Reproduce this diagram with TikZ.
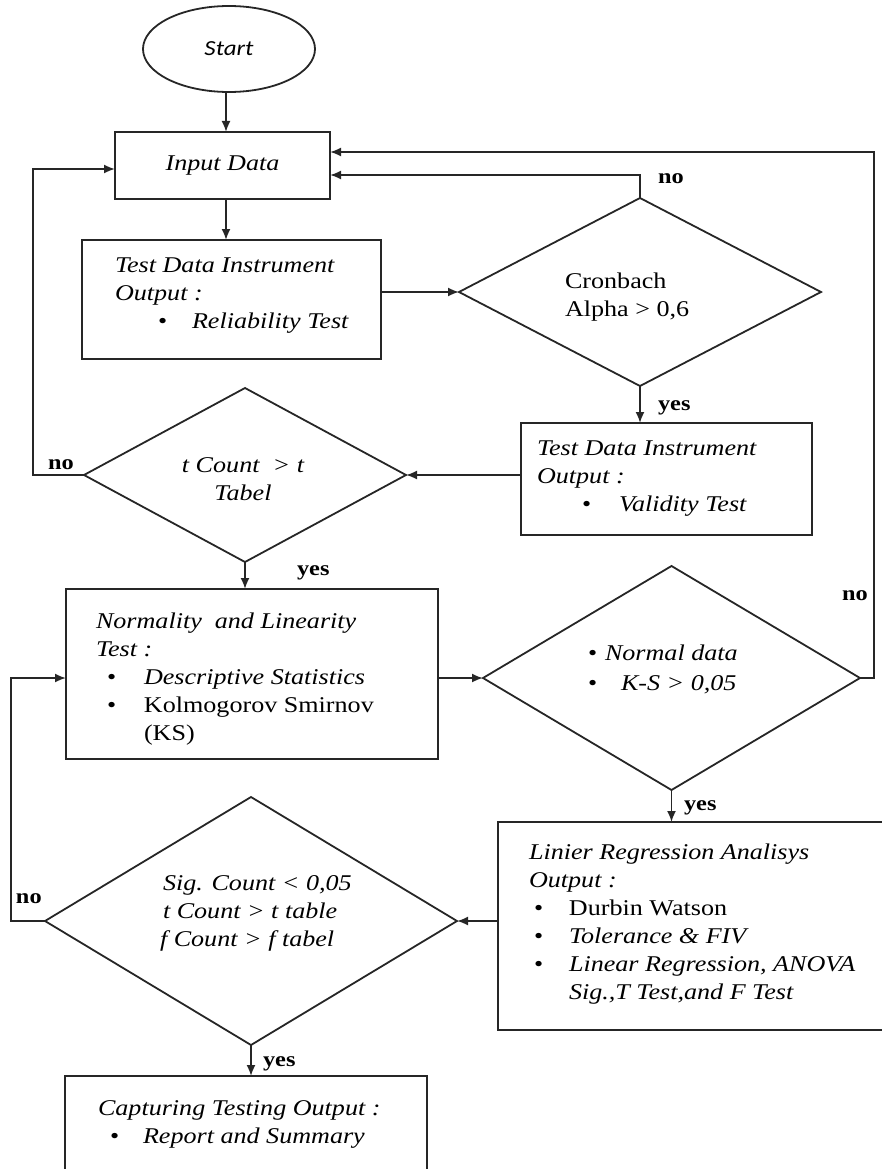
\documentclass[tikz,border=0pt]{standalone}
\usepackage{fontspec}
\setmainfont{Liberation Serif}[FakeStretch=1.16]
\newfontfamily\startfont{Carlito}[FakeStretch=1.16]
\usetikzlibrary{shapes.geometric,arrows.meta}
\newcommand\tline[1]{\hbox{#1}}
\newcommand\bul[2]{\hspace*{#1}\makebox[#2][l]{\upshape •}}
\begin{document}
\begin{tikzpicture}[x=1pt,y=-1pt,
  every node/.style={inner sep=0pt, outer sep=0pt},
  shapeline/.style={draw=black!85, line width=1.8pt},
  box/.style={shapeline, rectangle},
  dec/.style={shapeline, diamond},
  conn/.style={draw=black!85, line width=1.8pt, -{Latex[length=11pt,width=9pt]}},
  txt/.style={anchor=base west, font=\fontsize{22.5}{28}\selectfont\itshape},
  lab/.style={anchor=base west, font=\fontsize{21}{21}\selectfont\bfseries},
]
\useasboundingbox (0,0) rectangle (882,1169);
\clip (0,0) rectangle (882,1169);

% shapes
\node[ellipse, shapeline, minimum width=172pt, minimum height=86pt,
      font=\startfont\itshape\fontsize{21.5}{22}\selectfont] (start) at (229,49) {Start};
\node[box, minimum width=215pt, minimum height=67pt,
      font=\fontsize{22.5}{28}\selectfont\itshape] (input) at (222.5,165.5) {Input Data};
\node[box, minimum width=299pt, minimum height=119pt] (test1) at (231.5,299.5) {};
\node[dec, minimum width=362pt, minimum height=188pt] (cron) at (640,292) {};
\node[box, minimum width=291pt, minimum height=112pt] (test2) at (666.5,479) {};
\node[dec, minimum width=322pt, minimum height=174pt] (tcount) at (245,475) {};
\node[box, minimum width=372pt, minimum height=170pt] (norm) at (252,674) {};
\node[dec, minimum width=377pt, minimum height=224pt] (normal) at (671.5,678) {};
\node[box, minimum width=402pt, minimum height=208pt] (linier) at (699,926) {};
\node[dec, minimum width=412pt, minimum height=248pt] (sig) at (251,921) {};
\node[box, minimum width=362pt, minimum height=124pt] (capt) at (246,1138) {};

% texts
\node[txt] (t-test1) at (115,272) {\vtop{\tline{Test Data Instrument}\tline{Output :}\tline{\bul{43pt}{34pt}Reliability Test}}};
\node[txt] (t-cron) at (565,288) {\upshape\vtop{\tline{Cronbach}\tline{Alpha > 0,6}}};
\node[txt] (t-test2) at (537,455) {\vtop{\tline{Test Data Instrument}\tline{Output :}\tline{\bul{45pt}{37pt}Validity Test}}};
\node[txt] (t-tcount) at (178,472) {\vtop{\tline{\makebox[130pt]{t Count\ \ > t}}\tline{\makebox[130pt]{Tabel}}}};
\node[txt] (t-norm) at (96,628) {\vtop{\tline{Normality\ \ and Linearity}\tline{Test :}\tline{\bul{11pt}{37pt}Descriptive Statistics}\tline{\bul{11pt}{37pt}\upshape Kolmogorov Smirnov}\tline{\hspace*{48pt}\upshape (KS)}}};
\node[txt] (t-normal) at (588,660) {\vtop{\baselineskip=30pt\tline{\bul{0pt}{17pt}Normal data}\tline{\bul{0pt}{33pt}K-S > 0,05}}};
\node[txt] (t-linier) at (529,859) {\vtop{\tline{Linier Regression Analisys}\tline{Output :}\tline{\bul{5pt}{35pt}\upshape Durbin Watson}\tline{\bul{5pt}{35pt}Tolerance \& FIV}\tline{\bul{5pt}{35pt}Linear Regression, ANOVA}\tline{\hspace*{40pt}Sig.,T Test,and F Test}}};
\node[txt] (t-sig) at (163,890) {\vtop{\tline{Sig. Count < 0,05}\tline{t Count > t table}\tline{\hspace*{-3pt}f Count > f tabel}}};
\node[txt] (t-capt) at (98,1115) {\vtop{\tline{Capturing Testing Output :}\tline{\bul{12pt}{33pt}Report and Summary}}};

% connectors
\draw[conn] ([xshift=3.5pt]input.north |- start.south) -- ([xshift=3.5pt]input.north);
\draw[conn] ([xshift=3.5pt]input.south) -- ([xshift=3.5pt]input.south |- test1.north);
\draw[conn] (test1.east |- cron.west) -- (cron.west);
\draw[conn] (cron.north) |- ([yshift=-9.5pt]input.east);
\draw[conn] (normal.east) -- ++(14,0) |- ([yshift=13.5pt]input.east);
\draw[conn] (tcount.west) -- ++(-51,0) |- ([yshift=-3.5pt]input.west);
\draw[conn] (cron.south) -- (cron.south |- test2.north);
\draw[conn] (test2.west |- tcount.east) -- (tcount.east);
\draw[conn] (tcount.south) -- (tcount.south |- norm.north);
\draw[conn] (norm.east |- normal.west) -- (normal.west);
\draw[conn] (normal.south) -- (normal.south |- linier.north);
\draw[conn] (linier.west |- sig.east) -- (sig.east);
\draw[conn] (sig.west) -- ++(-34,0) |- (norm.west |- normal.west);
\draw[conn] (sig.south) -- (sig.south |- capt.north);

% labels
\node[lab] (l-no1) at (658,183) {no};
\node[lab] (l-no2) at (842,600) {no};
\node[lab] (l-no3) at (48,469) {no};
\node[lab] (l-no4) at (16,903) {no};
\node[lab] (l-yes1) at (658,410) {yes};
\node[lab] (l-yes2) at (297,575) {yes};
\node[lab] (l-yes3) at (684,810) {yes};
\node[lab] (l-yes4) at (263,1066) {yes};
\end{tikzpicture}
\end{document}
